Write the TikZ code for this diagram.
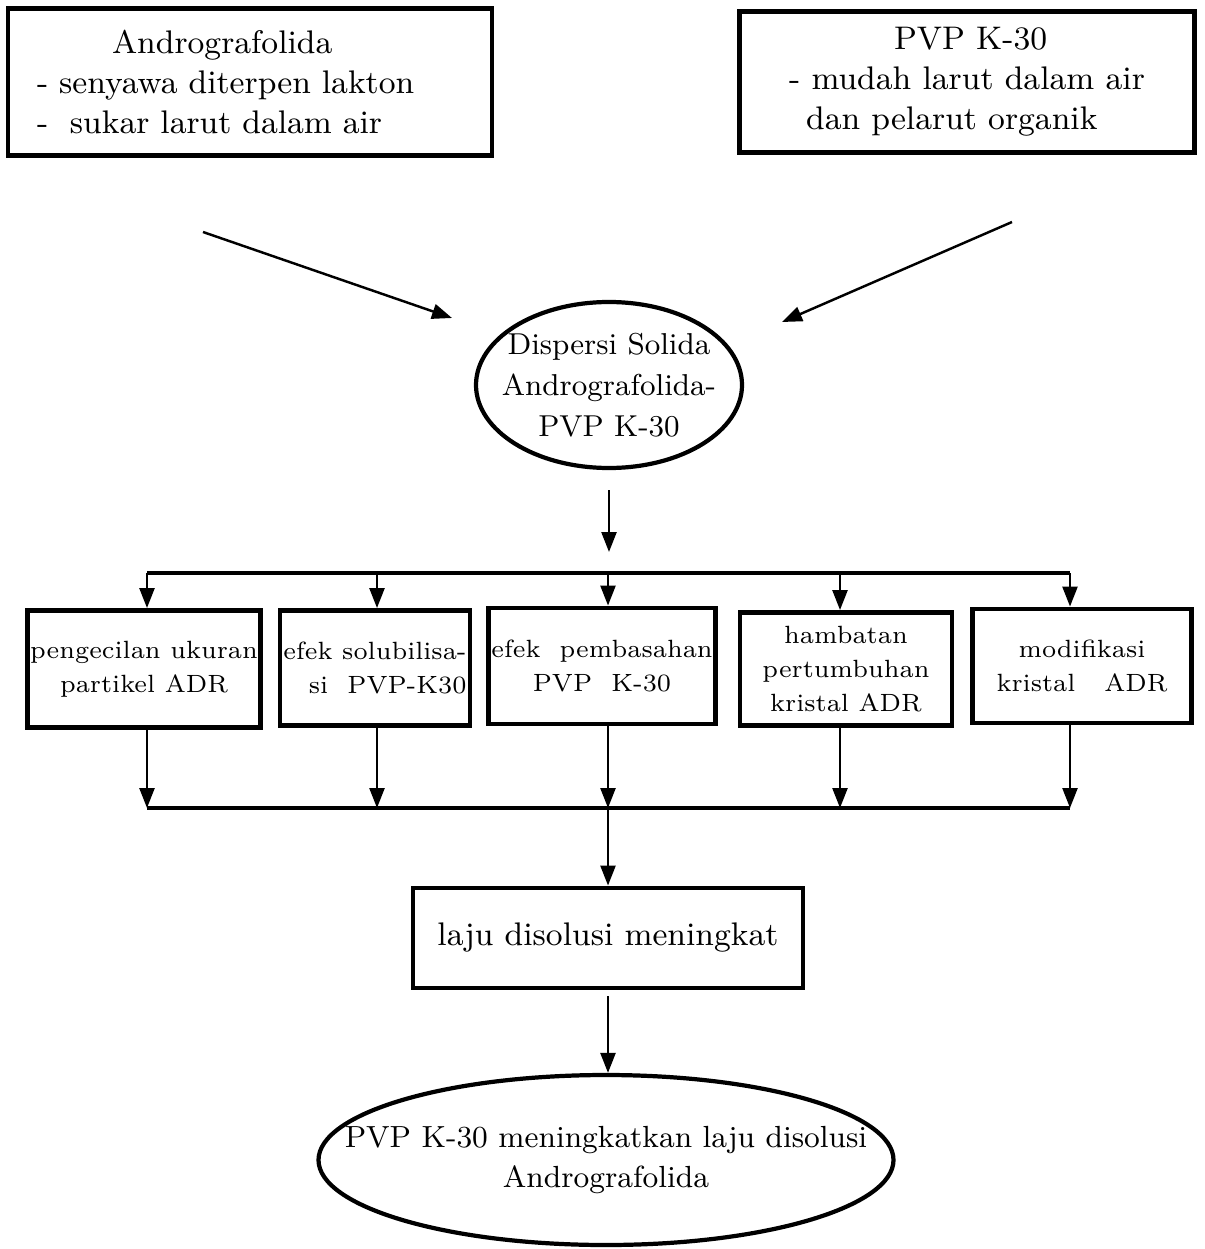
\documentclass[tikz,border=0pt]{standalone}
\usetikzlibrary{arrows.meta,shapes.geometric}
\begin{document}
\begin{tikzpicture}[x=0.1mm, y=-0.1mm,
    box/.style={draw, line width=1.4pt, inner sep=1mm, align=center},
    oval/.style={draw, ellipse, line width=1.2pt, inner sep=0pt},
    arr/.style={-{Triangle[length=2mm,width=1.5mm]}, line width=0.7pt},
    bus/.style={line width=1.1pt},
    big/.style={font=\fontsize{9.3}{11.4}\selectfont},
    small/.style={font=\fontsize{7.1}{9.6}\selectfont, inner xsep=0.3mm}]
    \useasboundingbox (0,0) rectangle (1204,1249);

    % Starting materials
    \node[box, big, align=left, text width=42.6mm, inner xsep=2.9mm, minimum height=14.7mm] (andro) at (250,82)
      {\hspace*{7.5mm}Andrografolida\\- senyawa diterpen lakton\\-\ \ sukar larut dalam air};
    \node[box, big, align=left, minimum width=45.5mm, minimum height=14.1mm] (pvp) at (967,82)
      {\hspace*{10.5mm}PVP K-30\\- mudah larut dalam air\\\hspace*{1.7mm}dan pelarut organik};

    % Solid dispersion
    \node[oval, minimum width=26.6mm, minimum height=16.6mm] (disp) at (609,385) {};
    \node[font=\fontsize{8.6}{11.6}\selectfont, align=center] (disptxt) at (disp) {Dispersi Solida\\Andrografolida-\\PVP K-30};

    \coordinate (inL) at (203,232);
    \coordinate (tipL) at (452,318);
    \coordinate (inR) at (1012,222);
    \coordinate (tipR) at (782,322);
    \draw[arr] (inL) -- (tipL);
    \draw[arr] (inR) -- (tipR);

    % Buses
    \coordinate (topbus) at (608,573);
    \coordinate (botbus) at (608,808);
    \foreach \i/\x in {1/147,2/377,3/608,4/840,5/1070} {
      \coordinate (t\i) at (\x,573);
      \coordinate (u\i) at (\x,808);
    }
    \draw[arr, shorten <=2mm, shorten >=2.1mm] (disp.south) -- (disp.south |- topbus);
    \draw[bus] (t1) -- (t5);
    \draw[bus] (u1) -- (u5);

    % Mechanisms
    \node[box, small, minimum width=22.8mm, minimum height=11.7mm] (m1) at (144,669) {pengecilan ukuran\\partikel ADR};
    \node[box, small, align=right, minimum width=19mm, minimum height=11.5mm] (m2) at (375,668) {efek solubilisa-\\si\ \ PVP-K30};
    \node[box, small, minimum width=22.5mm, minimum height=11.6mm] (m3) at (602,666) {efek\ \ pembasahan\\PVP\ \ K-30};
    \node[box, small, minimum width=21.2mm, minimum height=11.3mm] (m4) at (846,669) {hambatan\\pertumbuhan\\kristal ADR};
    \node[box, small, minimum width=21.9mm, minimum height=11.4mm] (m5) at (1082,666) {modifikasi\\kristal\ \ \ ADR};

    \foreach \i in {1,...,5} {
      \draw[arr] (t\i) -- (t\i |- m\i.north);
      \draw[arr] (t\i |- m\i.south) -- (u\i);
    }

    % Result
    \node[box, big, minimum width=39mm, minimum height=10mm] (laju) at (608,938) {laju disolusi meningkat};
    \draw[arr] (botbus) -- (laju.north);
    \node[oval, minimum width=57.5mm, minimum height=17mm] (hasil) at (606,1160) {};
    \node[font=\fontsize{8.7}{11.4}\selectfont, align=center] (hasiltxt) at (hasil) {PVP K-30 meningkatkan laju disolusi\\Andrografolida};
    \draw[arr, shorten <=0.6mm] (laju.south) -- (laju.south |- hasil.north);
\end{tikzpicture}
\end{document}
